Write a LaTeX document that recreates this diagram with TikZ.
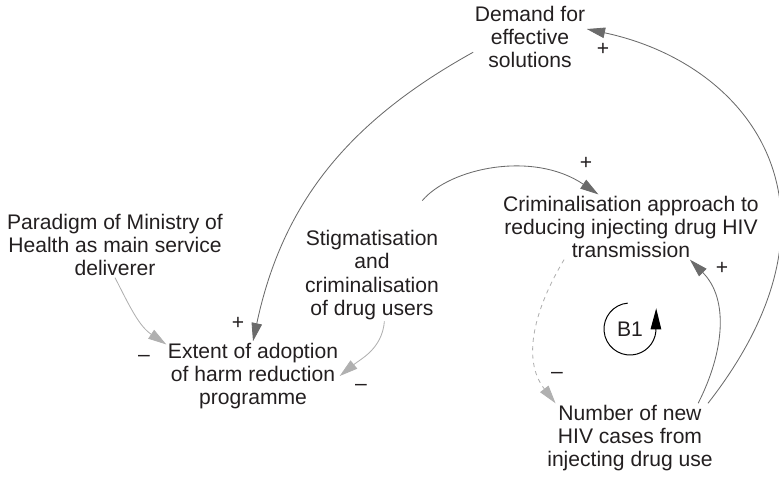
\documentclass[tikz,border=0pt]{standalone}
\usepackage{fontspec}
\setmainfont{Liberation Sans}
\usetikzlibrary{arrows.meta}

\definecolor{linkdark}{HTML}{6B6B6B}
\definecolor{linklight}{HTML}{B0B0B0}
\definecolor{inkgrey}{HTML}{231F20}

\tikzset{
  poslink/.style={draw=linkdark,line width=0.6pt,-{Triangle[length=13pt,width=7.5pt]}},
  neglink/.style={draw=linklight,line width=0.6pt,-{Triangle[length=13pt,width=7.5pt]}},
  looparrow/.style={draw=black,line width=0.7pt,-{Triangle[length=15pt,width=7.5pt]}},
  varfont/.style={font=\fontsize{15}{16.5}\selectfont,text=inkgrey}
}

\begin{document}
\begin{tikzpicture}[x=0.025cm,y=0.025cm]
        \useasboundingbox (0,0) rectangle (779,-479);

        \begin{scope}[every node/.style={varfont,align=center,inner sep=1pt}]
          \node (demand)   at (530,-37)  {Demand for\\effective\\solutions};
          \node (paradigm) at (115,-245) {Paradigm of Ministry of\\Health as main service\\deliverer};
          \node (stigma)   at (372,-275) {Stigmatisation\\and\\criminalisation\\of drug users};
          \node (crimin)   at (631,-227) {Criminalisation approach to\\reducing injecting drug HIV\\transmission};
          \node (extent)   at (253,-376) {Extent of adoption\\of harm reduction\\programme};
          \node (number)   at (630,-438) {Number of new\\HIV cases from\\injecting drug use};
          \node (b1)       at (630,-329) {B1};
        \end{scope}

        \begin{scope}[every node/.style={varfont,inner sep=0pt}]
          \node (s1) at (603,-49)  {+};
          \node (s2) at (238,-323) {+};
          \node (s3) at (586,-163) {+};
          \node (s4) at (722,-268) {+};
          \node (s5) at (144,-358) {--};
          \node (s6) at (361,-387) {--};
          \node (s7) at (557,-375) {--};
        \end{scope}

        \begin{scope}[every edge/.style={draw}]
          \path (number.24)   edge[poslink,out=52,in=-12,out looseness=1.6,in looseness=1.1] (demand.8);
          \path (demand.195)  edge[poslink,out=209,in=78] (extent.north);
          \path (stigma.60)   edge[poslink,out=50,in=146,shorten <=26pt] (crimin.135);
          \path (number.27)   edge[poslink,out=63,in=-45] (crimin.-29);
          \path (paradigm.south) edge[neglink,out=-63,in=146] (extent.160);
          \path (stigma.-75)  edge[neglink,out=-95,in=39] (extent.east);
          \path (crimin.206)  edge[neglink,dashed,out=239,in=128] (number.155);
        \end{scope}

        \draw[looparrow] ([shift={(95:0.65cm)}]b1.center)
          arc[start angle=95,end angle=355,radius=0.65cm] -- ++(0.3,23);

      \end{tikzpicture}
\end{document}
